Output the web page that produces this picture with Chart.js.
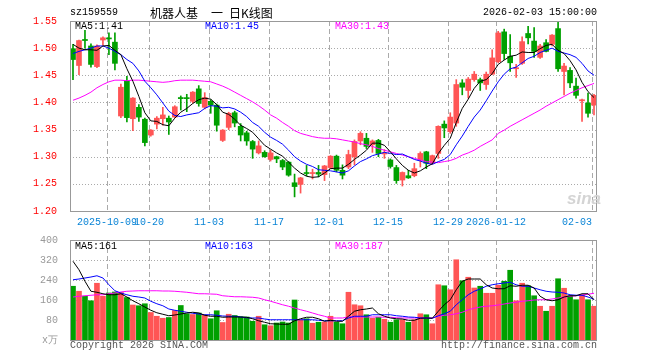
<!DOCTYPE html>
<html>
<head>
<meta charset="utf-8">
<script src="https://cdn.jsdelivr.net/npm/chart.js@4.4.1/dist/chart.umd.min.js"></script>
<style>
  body { margin: 0; background: #fff; }
  #wrap { position: relative; width: 660px; height: 360px; overflow: hidden;
          font-family: 'Liberation Mono', 'DejaVu Sans Mono', monospace; font-size: 10px; }
  canvas { position: absolute; left: 0; }
  .t { position: absolute; line-height: 10px; white-space: pre; }
  .cjk { position: absolute; font-family: 'Noto Sans CJK SC', sans-serif; font-size: 12px; line-height: 12px; }
</style>
</head>
<body>
<div id="wrap">
  <canvas id="kline" width="660" height="230" style="top:0"></canvas>
  <canvas id="vol" width="660" height="130" style="top:230px"></canvas>

  <div class="t" style="left:70px;top:8px">sz159559</div>
  <div class="cjk" style="left:150px;top:7px">机器人基</div>
  <div class="cjk" style="left:211px;top:7px">一</div>
  <div class="cjk" style="left:229px;top:7px">日K线图</div>
  <div class="t" style="left:483px;top:8px">2026-02-03 15:00:00</div>

  <div class="t" style="left:75px;top:22px">MA5:1.41</div>
  <div class="t" style="left:205px;top:22px;color:#0000ff">MA10:1.45</div>
  <div class="t" style="left:335px;top:22px;color:#ff00ff">MA30:1.43</div>

  <div class="t" style="left:75px;top:242px">MA5:161</div>
  <div class="t" style="left:205px;top:242px;color:#0000ff">MA10:163</div>
  <div class="t" style="left:335px;top:242px;color:#ff00ff">MA30:187</div>

  <div class="t" style="left:567px;top:190px;font:italic bold 17px 'Liberation Sans',sans-serif;line-height:17px;color:#d4d4d4">sina</div>

  <div class="t" style="left:70px;top:341px;color:#555">Copyright 2026 SINA.COM</div>
  <div class="t" style="left:441px;top:341px;color:#555">http://finance.sina.com.cn</div>
</div>

<script>
const dates = [
  '2025-09-23','2025-09-24','2025-09-25','2025-09-26','2025-09-29','2025-09-30',
  '2025-10-09','2025-10-10','2025-10-13','2025-10-14','2025-10-15','2025-10-16','2025-10-17',
  '2025-10-20','2025-10-21','2025-10-22','2025-10-23','2025-10-24',
  '2025-10-27','2025-10-28','2025-10-29','2025-10-30','2025-10-31',
  '2025-11-03','2025-11-04','2025-11-05','2025-11-06','2025-11-07',
  '2025-11-10','2025-11-11','2025-11-12','2025-11-13','2025-11-14',
  '2025-11-17','2025-11-18','2025-11-19','2025-11-20','2025-11-21',
  '2025-11-24','2025-11-25','2025-11-26','2025-11-27','2025-11-28',
  '2025-12-01','2025-12-02','2025-12-03','2025-12-04','2025-12-05',
  '2025-12-08','2025-12-09','2025-12-10','2025-12-11','2025-12-12',
  '2025-12-15','2025-12-16','2025-12-17','2025-12-18','2025-12-19',
  '2025-12-22','2025-12-23','2025-12-24','2025-12-25','2025-12-26',
  '2025-12-29','2025-12-30','2025-12-31',
  '2026-01-05','2026-01-06','2026-01-07','2026-01-08','2026-01-09',
  '2026-01-12','2026-01-13','2026-01-14','2026-01-15','2026-01-16',
  '2026-01-19','2026-01-20','2026-01-21','2026-01-22','2026-01-23',
  '2026-01-26','2026-01-27','2026-01-28','2026-01-29','2026-01-30',
  '2026-02-02','2026-02-03'
];

// indices of the dates shown under the price panel
const tickIdx = [6, 13, 23, 33, 43, 53, 63, 71, 87];
const tickLabels = ['2025-10-09', '10-20', '11-03', '11-17', '12-01', '12-15', '12-29', '2026-01-12', '02-03'];

const opens = [
  1.499,1.468,1.516,1.504,1.466,1.515,1.518,1.511,1.375,1.439,
  1.370,1.391,1.369,1.340,1.360,1.370,1.371,1.373,1.409,1.408,
  1.402,1.425,1.391,1.402,1.395,1.330,1.354,1.381,1.356,1.344,
  1.328,1.307,1.308,1.295,1.300,1.293,1.290,1.252,1.249,1.270,
  1.269,1.271,1.267,1.280,1.301,1.275,1.281,1.300,1.329,1.334,
  1.322,1.330,1.305,1.294,1.280,1.257,1.265,1.265,1.294,1.309,
  1.288,1.306,1.360,1.346,1.362,1.436,1.422,1.442,1.442,1.433,
  1.452,1.475,1.530,1.485,1.462,1.472,1.527,1.513,1.483,1.510,
  1.507,1.536,1.457,1.459,1.430,1.403,1.399,1.395
];
const highs = [
  1.507,1.515,1.533,1.508,1.506,1.521,1.528,1.528,1.434,1.448,
  1.409,1.396,1.371,1.350,1.374,1.391,1.375,1.394,1.412,1.415,
  1.420,1.431,1.418,1.405,1.397,1.350,1.382,1.384,1.361,1.347,
  1.330,1.329,1.311,1.312,1.301,1.295,1.291,1.268,1.262,1.284,
  1.277,1.284,1.284,1.302,1.303,1.285,1.312,1.331,1.346,1.343,
  1.331,1.332,1.313,1.296,1.284,1.272,1.275,1.288,1.309,1.310,
  1.303,1.357,1.366,1.381,1.442,1.442,1.446,1.457,1.445,1.456,
  1.497,1.531,1.535,1.525,1.470,1.521,1.540,1.538,1.507,1.516,
  1.525,1.550,1.472,1.464,1.445,1.406,1.417,1.415
];
const lows = [
  1.442,1.451,1.500,1.465,1.464,1.505,1.488,1.460,1.372,1.364,
  1.348,1.365,1.320,1.338,1.351,1.358,1.341,1.372,1.386,1.383,
  1.399,1.393,1.388,1.380,1.347,1.328,1.350,1.355,1.329,1.321,
  1.297,1.305,1.299,1.292,1.289,1.276,1.264,1.226,1.233,1.265,
  1.259,1.263,1.256,1.278,1.272,1.259,1.278,1.285,1.322,1.315,
  1.308,1.300,1.297,1.279,1.251,1.246,1.260,1.263,1.281,1.278,
  1.286,1.297,1.335,1.343,1.356,1.414,1.408,1.439,1.422,1.424,
  1.451,1.473,1.479,1.457,1.446,1.470,1.508,1.483,1.481,1.493,
  1.504,1.457,1.414,1.427,1.408,1.365,1.373,1.377
];
const closes = [
  1.479,1.514,1.514,1.470,1.504,1.519,1.517,1.472,1.428,1.372,
  1.408,1.373,1.326,1.349,1.371,1.377,1.364,1.392,1.407,1.407,
  1.419,1.398,1.409,1.395,1.358,1.349,1.380,1.362,1.340,1.329,
  1.314,1.320,1.300,1.307,1.296,1.281,1.266,1.245,1.261,1.269,
  1.270,1.268,1.283,1.301,1.275,1.266,1.304,1.328,1.343,1.319,
  1.329,1.306,1.307,1.282,1.256,1.271,1.261,1.278,1.306,1.288,
  1.302,1.356,1.353,1.373,1.433,1.428,1.443,1.452,1.436,1.452,
  1.482,1.528,1.490,1.473,1.464,1.512,1.519,1.494,1.504,1.494,
  1.524,1.462,1.467,1.436,1.413,1.405,1.380,1.413
];

const ma5 = [
  1.507,1.500,1.497,1.497,1.496,1.504,1.505,1.496,1.488,1.462,
  1.439,1.411,1.381,1.366,1.365,1.359,1.357,1.371,1.382,1.389,
  1.398,1.405,1.408,1.406,1.396,1.382,1.378,1.369,1.358,1.352,
  1.345,1.333,1.321,1.314,1.307,1.301,1.290,1.279,1.270,1.264,
  1.262,1.263,1.270,1.278,1.279,1.279,1.286,1.295,1.303,1.312,
  1.325,1.325,1.321,1.309,1.296,1.284,1.275,1.270,1.274,1.281,
  1.287,1.306,1.321,1.334,1.363,1.389,1.406,1.426,1.439,1.442,
  1.453,1.470,1.478,1.485,1.487,1.493,1.492,1.492,1.499,1.505,
  1.507,1.496,1.490,1.477,1.460,1.437,1.420,1.409
];
const ma10 = [
  1.490,1.494,1.497,1.500,1.504,1.504,1.500,1.494,1.488,1.479,
  1.472,1.458,1.439,1.427,1.414,1.399,1.384,1.376,1.374,1.377,
  1.379,1.381,1.389,1.394,1.393,1.390,1.391,1.388,1.382,1.374,
  1.363,1.356,1.345,1.336,1.330,1.323,1.312,1.300,1.292,1.286,
  1.282,1.276,1.275,1.274,1.272,1.270,1.274,1.283,1.291,1.296,
  1.302,1.305,1.308,1.306,1.304,1.305,1.300,1.295,1.292,1.288,
  1.286,1.291,1.295,1.304,1.322,1.338,1.356,1.373,1.386,1.403,
  1.421,1.438,1.452,1.462,1.465,1.473,1.481,1.485,1.492,1.496,
  1.500,1.494,1.491,1.488,1.483,1.472,1.458,1.450
];
const ma30 = [
  1.404,1.408,1.413,1.419,1.427,1.433,1.438,1.441,1.441,1.440,
  1.441,1.441,1.440,1.439,1.438,1.437,1.438,1.440,1.441,1.441,
  1.441,1.440,1.439,1.438,1.434,1.430,1.425,1.419,1.413,1.407,
  1.401,1.394,1.386,1.377,1.371,1.363,1.356,1.348,1.343,1.340,
  1.337,1.335,1.334,1.334,1.333,1.331,1.329,1.327,1.324,1.322,
  1.319,1.315,1.312,1.309,1.306,1.303,1.300,1.297,1.294,1.291,
  1.290,1.289,1.291,1.293,1.297,1.303,1.307,1.312,1.319,1.325,
  1.331,1.343,1.349,1.356,1.362,1.368,1.374,1.380,1.386,1.393,
  1.399,1.405,1.411,1.417,1.422,1.427,1.431,1.435
];

// volume in 万 (x10k)
const volumes = [
  215,195,175,157,227,175,188,192,190,170,
  140,137,145,110,95,87,90,118,138,105,
  102,108,100,85,117,70,103,98,93,92,
  75,95,61,57,68,72,68,160,81,85,
  67,71,72,95,71,65,191,141,137,101,
  87,91,83,71,81,81,71,81,105,101,
  65,221,217,201,321,237,251,208,215,187,
  187,219,235,279,157,227,217,177,135,115,
  135,245,207,177,161,180,161,135
];
const vma5 = [
  315,281,235,195,191,185,181,181,185,172,
  157,145,132,119,109,103,97,100,104,108,
  111,108,99,95,95,91,92,92,92,91,
  85,77,71,65,64,63,63,77,85,91,
  91,85,75,79,75,75,95,115,121,124,
  128,105,95,88,85,84,79,79,87,88,
  87,115,141,161,201,235,244,244,244,221,
  208,205,205,217,215,219,219,208,175,161,
  157,161,172,177,177,185,185,161
];
const vma10 = [
  241,244,248,252,257,248,221,197,188,181,
  175,172,168,155,145,137,124,119,115,111,
  107,104,101,101,99,96,95,95,92,89,
  88,88,84,81,81,81,81,81,81,81,
  81,79,77,77,77,77,88,95,95,95,
  101,101,101,101,97,95,92,91,88,88,
  87,97,105,115,141,161,181,195,204,215,
  221,225,228,231,221,215,215,208,201,195,
  192,191,188,181,179,179,172,163
];
const vma30 = [
  172,175,177,179,181,181,185,188,192,195,
  196,197,197,197,197,196,196,195,193,191,
  188,185,185,184,183,177,175,173,173,172,
  171,168,161,155,148,141,135,128,121,115,
  108,101,95,88,88,88,92,92,92,92,
  92,92,91,91,89,88,88,88,88,88,
  88,95,99,101,105,111,121,127,132,135,
  137,140,144,148,151,155,157,160,161,161,
  164,168,172,175,177,180,183,187
];

const UP = '#ff5555';
const DOWN = '#00a000';
const MONO = "'Liberation Mono', 'DejaVu Sans Mono', monospace";
const candleColors = closes.map((c, i) => (c >= opens[i] ? UP : DOWN));

// dotted price grid, dashed date grid, frame and date labels
function panelGrid(showDates) {
  return {
    id: 'panelGrid',
    beforeDatasetsDraw(chart) {
      const { ctx, chartArea: a, scales } = chart;
      ctx.save();
      ctx.lineWidth = 1;
      ctx.strokeStyle = '#aaaaaa';
      ctx.setLineDash([1, 2]);
      scales.y.ticks.forEach(t => {
        const py = Math.round(scales.y.getPixelForValue(t.value)) + 0.5;
        if (py < a.top + 2 || py > a.bottom - 2) return;
        ctx.beginPath();
        ctx.moveTo(a.left, py);
        ctx.lineTo(a.right, py);
        ctx.stroke();
      });
      ctx.setLineDash([5, 3]);
      tickIdx.forEach(i => {
        const px = Math.round(scales.x.getPixelForValue(i) - 2) + 0.5;
        ctx.beginPath();
        ctx.moveTo(px, a.top);
        ctx.lineTo(px, a.bottom);
        ctx.stroke();
      });
      ctx.restore();
    },
    afterDatasetsDraw(chart) {
      const { ctx, chartArea: a, scales } = chart;
      ctx.save();
      ctx.strokeStyle = '#999999';
      ctx.lineWidth = 1;
      ctx.strokeRect(a.left + 0.5, a.top + 0.5, a.right - a.left - 1, a.bottom - a.top);
      if (showDates) {
        ctx.font = '10px ' + MONO;
        ctx.fillStyle = '#0a84d6';
        ctx.textBaseline = 'middle';
        tickIdx.forEach((i, k) => {
          const px = Math.round(scales.x.getPixelForValue(i) - 2);
          const w = ctx.measureText(tickLabels[k]).width;
          ctx.textAlign = px + w / 2 > a.right ? 'right' : 'center';
          ctx.fillText(tickLabels[k], px, a.bottom + 11);
        });
      }
      ctx.restore();
    }
  };
}

const lineSet = (data, color) => ({
  type: 'line', data, borderColor: color, borderWidth: 1,
  pointRadius: 0, fill: false, tension: 0, order: 0
});

new Chart(document.getElementById('kline'), {
  type: 'bar',
  data: {
    labels: dates,
    datasets: [
      lineSet(ma5, '#000000'),
      lineSet(ma10, '#0000ff'),
      lineSet(ma30, '#ff00ff'),
      {
        data: opens.map((o, i) => [o, closes[i]]),
        backgroundColor: candleColors, barThickness: 5, minBarLength: 1,
        grouped: false, order: 1
      },
      {
        data: lows.map((l, i) => [l, highs[i]]),
        backgroundColor: candleColors, barThickness: 1,
        grouped: false, order: 2
      }
    ]
  },
  options: {
    responsive: false,
    animation: false,
    layout: { padding: { left: 0, right: 63, top: 21, bottom: 19 } },
    plugins: { legend: { display: false }, tooltip: { enabled: false } },
    scales: {
      x: { display: false, offset: true },
      y: {
        min: 1.2, max: 1.55,
        grid: { display: false }, border: { display: false },
        ticks: { stepSize: 0.05, color: '#ff0000', padding: 5,
                 font: { family: MONO, size: 10 }, callback: v => v.toFixed(2) },
        afterFit(s) { s.width = 70; }
      }
    }
  },
  plugins: [panelGrid(true)]
});

new Chart(document.getElementById('vol'), {
  type: 'bar',
  data: {
    labels: dates,
    datasets: [
      lineSet(vma5, '#000000'),
      lineSet(vma10, '#0000ff'),
      lineSet(vma30, '#ff00ff'),
      {
        data: volumes, backgroundColor: candleColors, barThickness: 5,
        grouped: false, order: 1
      }
    ]
  },
  options: {
    responsive: false,
    animation: false,
    layout: { padding: { left: 0, right: 63, top: 10, bottom: 20 } },
    plugins: { legend: { display: false }, tooltip: { enabled: false } },
    scales: {
      x: { display: false, offset: true },
      y: {
        min: 0, max: 400,
        grid: { display: false }, border: { display: false },
        ticks: { stepSize: 80, color: '#999999', padding: 4,
                 font: { family: MONO, size: 10 }, callback: v => (v === 0 ? 'x万' : v) },
        afterFit(s) { s.width = 70; }
      }
    }
  },
  plugins: [panelGrid(false)]
});
</script>
</body>
</html>
